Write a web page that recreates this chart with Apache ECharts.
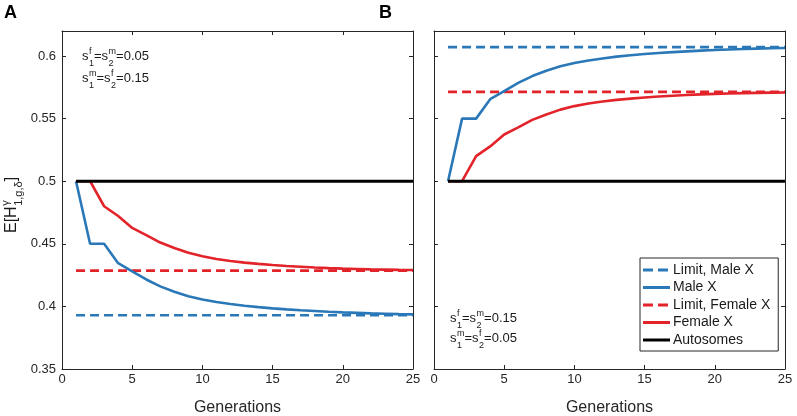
<!DOCTYPE html>
<html>
<head>
<meta charset="utf-8">
<script src="https://cdn.jsdelivr.net/npm/echarts@6/dist/echarts.min.js"></script>
<style>html,body{margin:0;padding:0;background:#fff}#c{width:797px;height:416px}</style>
</head>
<body>
<div id="c"></div>
<script>
// ---- data ----
const generations = [1,2,3,4,5,6,7,8,9,10,11,12,13,14,15,16,17,18,19,20,21,22,23,24,25];
const maleA   = [0.5,0.45,0.45,0.4345,0.428,0.4215,0.416,0.4117,0.4082,0.4055,0.4035,0.4019,0.4005,0.3994,0.3984,0.3976,0.3969,0.3963,0.3957,0.3952,0.3948,0.3944,0.3941,0.3938,0.3936];
const femaleA = [0.5,0.5,0.48,0.4722,0.4627,0.457,0.451,0.4467,0.4428,0.44,0.4379,0.4363,0.435,0.434,0.4331,0.4323,0.4317,0.4311,0.4306,0.4302,0.4299,0.4296,0.4294,0.4292,0.4291];
const maleB   = [0.5,0.55,0.55,0.5655,0.572,0.5785,0.584,0.5883,0.5918,0.5945,0.5965,0.5981,0.5995,0.6006,0.6016,0.6024,0.6031,0.6037,0.6043,0.6048,0.6052,0.6056,0.6059,0.6062,0.6064];
const femaleB = [0.5,0.5,0.52,0.5278,0.5373,0.543,0.549,0.5533,0.5572,0.56,0.5621,0.5637,0.565,0.566,0.5669,0.5677,0.5683,0.5689,0.5694,0.5698,0.5701,0.5704,0.5706,0.5708,0.5709];
const limitMaleA = 0.3929, limitFemaleA = 0.4286;
const limitMaleB = 0.6071, limitFemaleB = 0.5714;
const autosomes = 0.5;
const xTicks = [0,5,10,15,20,25];
const yTicks = [0.35,0.4,0.45,0.5,0.55,0.6];
const seriesNames = ['Limit, Male X','Male X','Limit, Female X','Female X','Autosomes'];

// ---- style ----
const FONT = '"Liberation Sans", Arial, Helvetica, sans-serif';
const BLUE = '#2a78b8', RED = '#e3232a', BLACK = '#000000', AX = '#262626';
const ICON_SOLID = 'path://M0,0H27V3H0Z';
const ICON_DASH = 'path://M0,0H10V3H0Z M15,0H25V3H15Z M27,0H27V3H27Z';

const pairs = arr => generations.map((g,i)=>[g, arr[i]]);
const flat = v => [[generations[0], v],[generations[generations.length-1], v]];

const chart = echarts.init(document.getElementById('c'), null, {renderer:'canvas'});

function xAx(grid, pos){
  return {type:'value', gridIndex:grid, position:pos, min:xTicks[0], max:xTicks[xTicks.length-1], interval:5,
    axisLine:{show:true, onZero:false, lineStyle:{color:AX, width:1}},
    axisTick:{show:true, inside:true, length:4, lineStyle:{color:AX}},
    axisLabel:{show:pos==='bottom', margin:4, fontFamily:FONT, fontSize:13, color:AX},
    splitLine:{show:false},
    name: pos==='bottom' ? 'Generations' : '', nameLocation:'middle', nameGap:31,
    nameTextStyle:{fontFamily:FONT, fontSize:16, color:AX}};
}
function yAx(grid, pos, labels){
  return {type:'value', gridIndex:grid, position:pos, min:yTicks[0], max:0.62, interval:0.05,
    axisLine:{show:true, onZero:false, lineStyle:{color:AX, width:1}},
    axisTick:{show:true, inside:true, length:4, lineStyle:{color:AX}},
    axisLabel:{show:labels, margin:6, fontFamily:FONT, fontSize:13, color:AX, showMaxLabel:false,
      formatter: v => Math.abs(v*20-Math.round(v*20))<1e-6 ? String(parseFloat(v.toFixed(2))) : ''},
    splitLine:{show:false}};
}

function line(name, data, color, dashed, xi, yi, w){
  return {type:'line', name, data, xAxisIndex:xi, yAxisIndex:yi, symbol:'none', showSymbol:false,
    silent:true, animation:false, z: dashed?2:3,
    lineStyle:{color, width:w||2.6, type: dashed ? [9,5] : 'solid', cap:'butt'},
    itemStyle:{color}};
}

// math text helper (stacked super/sub scripts)
const mctx = document.createElement('canvas').getContext('2d');
function tw(t, s){ mctx.font = s+'px '+FONT; return mctx.measureText(t).width; }
function mathGroup(x, y, parts, size, rot, ratio, supOff, subOff){
  const kids = []; let cx = 0; const ss = Math.round(size*(ratio||0.72));
  const so = supOff==null ? -size*0.38 : supOff, bo = subOff==null ? size*0.55 : subOff;
  parts.forEach(p=>{
    if (p.b){
      kids.push({type:'text', x:cx, y:0, style:{text:p.b, font:size+'px '+FONT, fill:'#1a1a1a', textVerticalAlign:'middle', verticalAlign:'middle'}});
      cx += tw(p.b, size);
    }
    let w2 = 0;
    if (p.sup){
      kids.push({type:'text', x:cx+0.5, y:so, style:{text:p.sup, font:ss+'px '+FONT, fill:'#1a1a1a', textVerticalAlign:'middle', verticalAlign:'middle'}});
      w2 = Math.max(w2, tw(p.sup, ss));
    }
    if (p.sub){
      kids.push({type:'text', x:cx+0.5, y:bo, style:{text:p.sub, font:ss+'px '+FONT, fill:'#1a1a1a', textVerticalAlign:'middle', verticalAlign:'middle'}});
      w2 = Math.max(w2, tw(p.sub, ss));
    }
    cx += w2 ? w2 + 0.5 : 0;
  });
  return {type:'group', x, y, rotation: rot||0, children:kids, silent:true};
}

const option = {
  backgroundColor:'#fff',
  animation:false,
  grid:[
    {left:62, right:797-413, top:31, bottom:416-369, containLabel:false, outerBoundsMode:'none'},
    {left:434, right:797-785, top:31, bottom:416-369, containLabel:false, outerBoundsMode:'none'}
  ],
  xAxis:[xAx(0,'bottom'), xAx(0,'top'), xAx(1,'bottom'), xAx(1,'top')],
  yAxis:[yAx(0,'left',true), yAx(0,'right',false), yAx(1,'left',false), yAx(1,'right',false)],
  legend:{
    data: seriesNames.map((n,i)=>({name:n, icon: (i===0||i===2) ? ICON_DASH : ICON_SOLID})),
    orient:'vertical', left:640, top:258, selectedMode:false,
    itemWidth:27, itemHeight:3, itemGap:3.5, padding:[5,8,4,3],
    backgroundColor:'#fff', borderColor:AX, borderWidth:1, borderRadius:0,
    textStyle:{fontFamily:FONT, fontSize:14, lineHeight:14, color:'#1a1a1a', padding:[0,0,0,-2]}
  },
  series:[
    line('Limit, Male X', flat(limitMaleA), BLUE, true, 0, 0),
    line('Male X', pairs(maleA), BLUE, false, 0, 0),
    line('Limit, Female X', flat(limitFemaleA), RED, true, 0, 0),
    line('Female X', pairs(femaleA), RED, false, 0, 0),
    line('Autosomes', flat(autosomes), BLACK, false, 0, 0, 3),
    line('Limit, Male X', flat(limitMaleB), BLUE, true, 2, 2),
    line('Male X', pairs(maleB), BLUE, false, 2, 2),
    line('Limit, Female X', flat(limitFemaleB), RED, true, 2, 2),
    line('Female X', pairs(femaleB), RED, false, 2, 2),
    line('Autosomes', flat(autosomes), BLACK, false, 2, 2, 3)
  ],
  graphic:[
    {type:'text', left:4, top:4, style:{text:'A', font:'bold 18px '+FONT, fill:'#000'}},
    {type:'text', left:379, top:4, style:{text:'B', font:'bold 18px '+FONT, fill:'#000'}},
    mathGroup(82, 56, [{b:'s', sup:'f', sub:'1'},{b:'=s', sup:'m', sub:'2'},{b:'=0.05'}], 13),
    mathGroup(82, 78, [{b:'s', sup:'m', sub:'1'},{b:'=s', sup:'f', sub:'2'},{b:'=0.15'}], 13),
    mathGroup(450, 318, [{b:'s', sup:'f', sub:'1'},{b:'=s', sup:'m', sub:'2'},{b:'=0.15'}], 13),
    mathGroup(450, 338, [{b:'s', sup:'m', sub:'1'},{b:'=s', sup:'f', sub:'2'},{b:'=0.05'}], 13),
    mathGroup(12, 233, [{b:'E[H', sup:'γ', sub:'1,g,δ'},{b:']'}], 16, Math.PI/2, 0.7, -6, 7)
  ]
};
chart.setOption(option);
</script>
</body>
</html>
